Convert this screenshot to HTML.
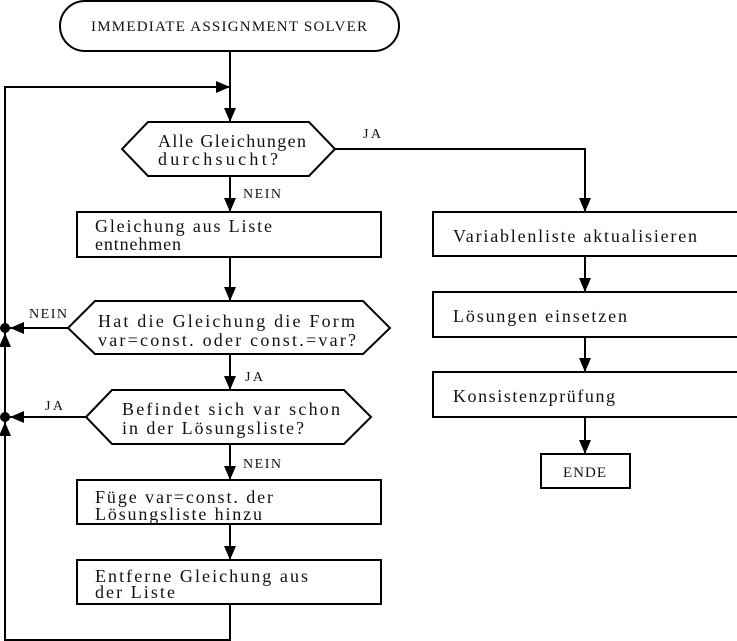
<!DOCTYPE html>
<html><head><meta charset="utf-8"><style>
html,body{margin:0;padding:0;background:#fff;}
svg{display:block;}
text{font-family:"Liberation Serif",serif;font-size:18px;fill:#111;}
.s{font-size:14px;}
.c{font-size:15px;}
</style></head><body>
<svg width="737" height="641" viewBox="0 0 737 641" xmlns="http://www.w3.org/2000/svg">
<defs>
<marker id="b" markerWidth="14" markerHeight="12" refX="14" refY="6" orient="auto" markerUnits="userSpaceOnUse" viewBox="0 0 14 12">
<path d="M0,0 L14,6 L0,12 z" fill="#000"/></marker>
</defs>
<g fill="none" stroke="#000" stroke-width="2">
<rect x="60" y="1" width="339" height="50" rx="25" ry="25"/>
<polygon points="148,122 309,122 335,149 309,176 148,176 122,149"/>
<rect x="77" y="212" width="304" height="45"/>
<polygon points="95,301 363,301 390,328 363,354 95,354 68,328"/>
<polygon points="112,390 344,390 371,417 344,444 112,444 86,417"/>
<rect x="77" y="480" width="304" height="44"/>
<rect x="77" y="560" width="304" height="44"/>
<rect x="433" y="212" width="310" height="44"/>
<rect x="433" y="292" width="310" height="45"/>
<rect x="433" y="372" width="310" height="45"/>
<rect x="541" y="454" width="89" height="34"/>
<line x1="230" y1="51" x2="230" y2="122" marker-end="url(#b)"/>
<polyline points="230,604 230,640 5,640 5,87 230,87" marker-end="url(#b)"/>
<line x1="230" y1="176" x2="230" y2="212" marker-end="url(#b)"/>
<line x1="230" y1="257" x2="230" y2="301" marker-end="url(#b)"/>
<line x1="230" y1="354" x2="230" y2="390" marker-end="url(#b)"/>
<line x1="230" y1="444" x2="230" y2="480" marker-end="url(#b)"/>
<line x1="230" y1="524" x2="230" y2="560" marker-end="url(#b)"/>
<polyline points="335,149 585,149 585,212" marker-end="url(#b)"/>
<line x1="585" y1="256" x2="585" y2="292" marker-end="url(#b)"/>
<line x1="585" y1="337" x2="585" y2="372" marker-end="url(#b)"/>
<line x1="585" y1="417" x2="585" y2="454" marker-end="url(#b)"/>
<line x1="68" y1="328" x2="10" y2="328" marker-end="url(#b)"/>
<line x1="86" y1="417" x2="10" y2="417" marker-end="url(#b)"/>
<line x1="5" y1="352" x2="5" y2="333" marker-end="url(#b)"/>
<line x1="5" y1="441" x2="5" y2="422" marker-end="url(#b)"/>
</g>
<circle cx="5" cy="328" r="5" fill="#000"/>
<circle cx="5" cy="417" r="5" fill="#000"/>
<text class="c" x="91" y="31" textLength="276" lengthAdjust="spacing">IMMEDIATE ASSIGNMENT SOLVER</text>
<text x="158" y="147" textLength="148" lengthAdjust="spacing">Alle Gleichungen</text>
<text x="158" y="165" textLength="120" lengthAdjust="spacing">durchsucht?</text>
<text x="95" y="232" textLength="177" lengthAdjust="spacing">Gleichung aus Liste</text>
<text x="95" y="250" textLength="86" lengthAdjust="spacing">entnehmen</text>
<text x="98" y="327" textLength="257" lengthAdjust="spacing">Hat die Gleichung die Form</text>
<text x="98" y="346" textLength="258" lengthAdjust="spacing">var=const. oder const.=var?</text>
<text x="122" y="415" textLength="218" lengthAdjust="spacing">Befindet sich var schon</text>
<text x="122" y="434" textLength="182" lengthAdjust="spacing">in der Lösungsliste?</text>
<text x="95" y="503" textLength="178" lengthAdjust="spacing">Füge var=const. der</text>
<text x="95" y="520" textLength="167" lengthAdjust="spacing">Lösungsliste hinzu</text>
<text x="95" y="582" textLength="213" lengthAdjust="spacing">Entferne Gleichung aus</text>
<text x="95" y="598" textLength="80" lengthAdjust="spacing">der Liste</text>
<text x="453" y="242" textLength="244" lengthAdjust="spacing">Variablenliste aktualisieren</text>
<text x="453" y="322" textLength="174" lengthAdjust="spacing">Lösungen einsetzen</text>
<text x="453" y="402" textLength="162" lengthAdjust="spacing">Konsistenzprüfung</text>
<text class="c" x="563" y="477" textLength="43" lengthAdjust="spacing">ENDE</text>
<text class="s" x="363" y="138" textLength="18" lengthAdjust="spacing">JA</text>
<text class="s" x="243" y="198" textLength="38" lengthAdjust="spacing">NEIN</text>
<text class="s" x="29" y="318" textLength="38" lengthAdjust="spacing">NEIN</text>
<text class="s" x="245" y="381" textLength="18" lengthAdjust="spacing">JA</text>
<text class="s" x="45" y="410" textLength="18" lengthAdjust="spacing">JA</text>
<text class="s" x="243" y="468" textLength="38" lengthAdjust="spacing">NEIN</text>
</svg>
</body></html>
